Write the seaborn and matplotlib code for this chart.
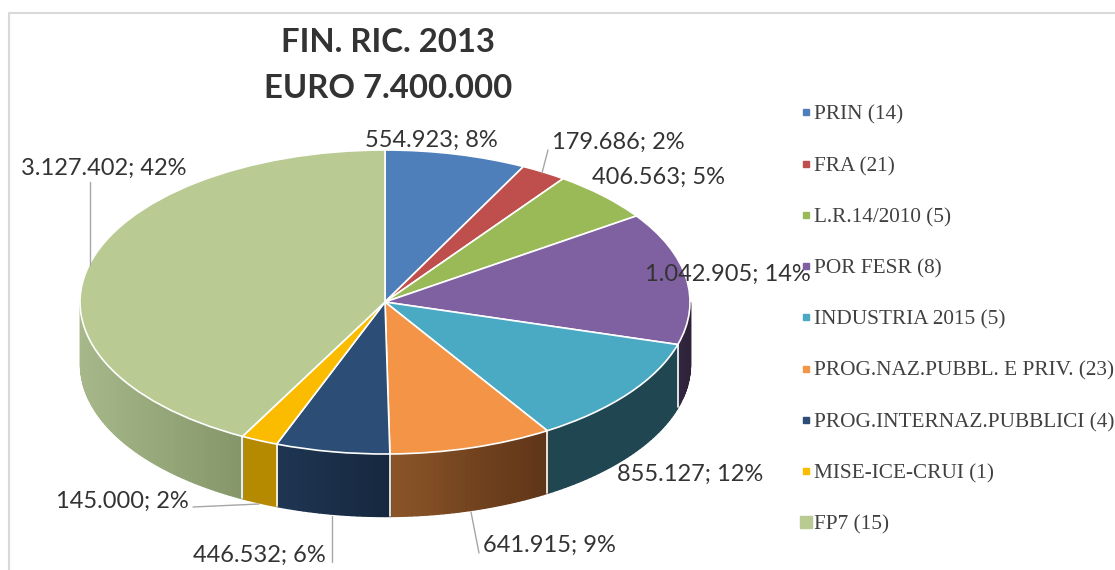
import numpy as np
import matplotlib
matplotlib.use("Agg")
import matplotlib.pyplot as plt
from matplotlib.lines import Line2D
from matplotlib.patches import Rectangle
import seaborn as sns

# data
names = ["PRIN (14)", "FRA (21)", "L.R.14/2010 (5)", "POR FESR (8)", "INDUSTRIA 2015 (5)",
         "PROG.NAZ.PUBBL. E PRIV. (23)", "PROG.INTERNAZ.PUBBLICI (4)", "MISE-ICE-CRUI (1)", "FP7 (15)"]
values = [554923, 179686, 406563, 1042905, 855127, 641915, 446532, 145000, 3127402]
percent = [8, 2, 5, 14, 12, 9, 6, 2, 42]
value_text = ["554.923", "179.686", "406.563", "1.042.905", "855.127", "641.915", "446.532", "145.000", "3.127.402"]

# colours
top_colors = ["#4f7fbb", "#be4f4c", "#9aba58", "#7f60a0", "#4aaac4", "#f49446", "#2c4d75", "#fbbc00", "#b9cb93"]
side_left = ["#3b618e", "#903c3a", "#748c43", "#33273f", "#1f4651", "#8a5428", "#1e3552", "#b58900", "#a6b78a"]
side_right = ["#3b618e", "#903c3a", "#748c43", "#2d2238", "#1f4651", "#5f3518", "#16283f", "#b58900", "#859669"]

# layout in pixels of the 1115x570 picture
W, H = 1115, 570
cx, cy, rx, ry, depth = 385, 302, 305, 152, 62
label_pos = [(365, 140), (552, 142), (592, 177), (645, 274), (617, 474), (483, 545), (193, 555), (56, 501), (21, 168)]
leaders = [((90, 182), (90, 265)), ((548, 150), (542, 173)), ((193, 507), (259, 504)),
           ((332, 562), (332, 516)), ((479, 553), (471, 512))]

sns.set_theme(style="white")
plt.rcParams["font.family"] = ["Lato", "DejaVu Sans"]

fig = plt.figure(figsize=(W / 100, H / 100), dpi=100)
ax = fig.add_axes([0, 0, 1, 1])


def px(x, y):
    return (x - cx) / rx, (cy - y) / ry


# top of the pie, elliptical because the aspect is freed below
wedges, _ = ax.pie(values, colors=top_colors, startangle=90, counterclock=False,
                   wedgeprops={"edgecolor": "white", "linewidth": 1.2}, radius=1)
for w in wedges:
    w.set_zorder(5)
ax.set_aspect("auto")
ax.set_xlim(px(0, 0)[0], px(W, 0)[0])
ax.set_ylim(px(0, H)[1], px(0, 0)[1])

# side wall, clockwise angle from 12 o'clock
edges = np.concatenate([[0], np.cumsum(values)]) / np.sum(values) * 360
d = depth / ry
for i in range(len(values)):
    a0, a1 = max(edges[i], 90), min(edges[i + 1], 270)
    if a1 <= a0:
        continue
    n = max(int(a1 - a0), 2)
    th = np.radians(np.linspace(a0, a1, n + 1))
    xs = np.sin(th)
    shades = sns.blend_palette([side_left[i], side_right[i]], n)
    lo, hi = xs.min(), xs.max()
    for k in range(n):
        x_pair = xs[k:k + 2]
        y_pair = np.cos(th[k:k + 2])
        frac = (x_pair.mean() - lo) / (hi - lo)
        c = shades[min(int(frac * n), n - 1)]
        ax.fill_between(x_pair, y_pair, y_pair - d, facecolor=c, edgecolor=c, linewidth=1.0, zorder=2)

for a in edges[1:]:
    if 90 <= a <= 270:
        x0 = np.sin(np.radians(a))
        y0 = np.cos(np.radians(a))
        ax.plot([x0, x0], [y0, y0 - d], color="white", lw=1.2, zorder=3)

# chart frame
ax.plot(*zip(px(9, H), px(9, 13), px(W, 13)), color="#d9d9d9", lw=1.5, zorder=1)

# leader lines
for p, q in leaders:
    ax.plot(*zip(px(*p), px(*q)), color="#a6a6a6", lw=1.0, zorder=6)

# data labels
for i, (x, y) in enumerate(label_pos):
    ax.text(*px(x, y), f"{value_text[i]}; {percent[i]}%", fontsize=17, color="#333333",
            ha="left", va="center", zorder=7)

# title
for y, line in [(43, "FIN. RIC. 2013"), (89, "EURO 7.400.000")]:
    ax.text(*px(388, y), line, fontsize=23.7, fontweight="bold", color="#333333",
            ha="center", va="center", zorder=7)

# legend box covers the end of the POR FESR label
ax.add_patch(Rectangle(px(810, 90), 320 / rx, -450 / ry, facecolor="white", edgecolor="none", zorder=8))

handles = [Line2D([], [], linestyle="none", marker="s", color=c,
                  markersize=8 if n == "FP7 (15)" else 4) for n, c in zip(names, top_colors)]
leg = ax.legend(handles, names, loc="upper left", bbox_to_anchor=(803 / W, 1 - 105 / H),
                frameon=False, prop={"family": "Liberation Serif", "size": 15.3},
                labelcolor="#404040", labelspacing=1.475, handlelength=0.3, handletextpad=0.22,
                borderpad=0, borderaxespad=0)
leg.set_zorder(9)

fig.savefig("out.png", dpi=100)
